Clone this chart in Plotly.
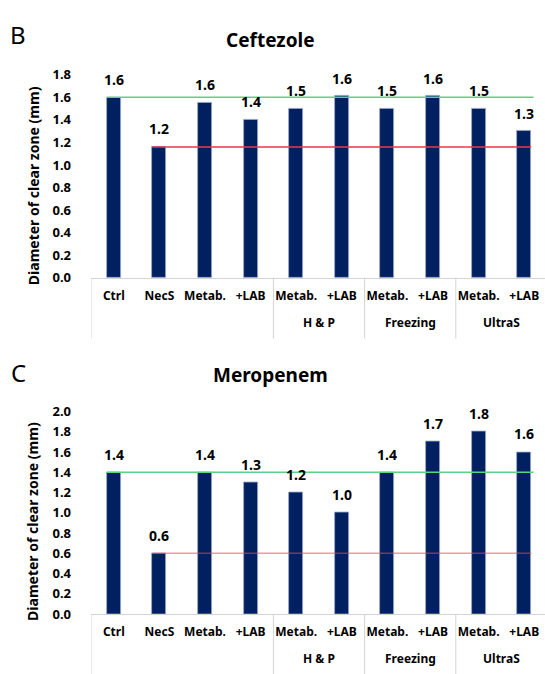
import plotly.graph_objects as go

# ---- data ----
categories = ["Ctrl", "NecS", "Metab.", "+LAB", "Metab.", "+LAB", "Metab.", "+LAB", "Metab.", "+LAB"]
groups = ["", "H & P", "Freezing", "UltraS"]
group_members = [[0, 1, 2, 3], [4, 5], [6, 7], [8, 9]]

ceftezole_values = [1.60, 1.16, 1.55, 1.40, 1.50, 1.61, 1.50, 1.61, 1.50, 1.30]
ceftezole_labels = ["1.6", "1.2", "1.6", "1.4", "1.5", "1.6", "1.5", "1.6", "1.5", "1.3"]

meropenem_values = [1.40, 0.60, 1.40, 1.30, 1.20, 1.00, 1.40, 1.70, 1.80, 1.60]
meropenem_labels = ["1.4", "0.6", "1.4", "1.3", "1.2", "1.0", "1.4", "1.7", "1.8", "1.6"]

ceftezole_ticks = [0.0, 0.2, 0.4, 0.6, 0.8, 1.0, 1.2, 1.4, 1.6, 1.8]
meropenem_ticks = [0.0, 0.2, 0.4, 0.6, 0.8, 1.0, 1.2, 1.4, 1.6, 1.8, 2.0]

panels = [
    dict(letter="B", title="Ceftezole", values=ceftezole_values, labels=ceftezole_labels,
         ticks=ceftezole_ticks, ymax=1.8, red="#E8384F"),
    dict(letter="C", title="Meropenem", values=meropenem_values, labels=meropenem_labels,
         ticks=meropenem_ticks, ymax=2.0, red="rgba(238,70,80,0.55)"),
]

# ---- layout geometry (pixels) ----
W, H = 545, 674
BAR_W = 0.307
FONT = "Noto Sans"
NAVY = "#002060"
GREEN = "#5AD28C"
GRID = "#D4D4D4"

plot_px = [(67.6, 276.0), (413.5, 621.7)]   # top/bottom pixel of each plot area
title_px = [32, 376]
letter_px = [26, 373]
ytitle_px = [182, 527]
group_px = [322, 667]

def py(p):
    return 1 - p / H

x_pos = list(range(len(categories)))
fig = go.Figure()
annotations = []
shapes = []

for i, pn in enumerate(panels):
    n = "" if i == 0 else str(i + 1)
    xa, ya = "x" + n, "y" + n
    vals = pn["values"]
    fig.add_trace(go.Bar(
        x=x_pos, y=vals, width=BAR_W, xaxis=xa, yaxis=ya,
        marker=dict(color=NAVY, line=dict(color="#9AA8CC", width=0.8)),
        hoverinfo="skip", showlegend=False,
    ))
    # reference lines (control level and NecS level)
    fig.add_trace(go.Scatter(
        x=[x_pos[0] - BAR_W / 2, x_pos[-1] + BAR_W / 2 + 0.05], y=[vals[0], vals[0]],
        mode="lines", line=dict(color=GREEN, width=1.5), xaxis=xa, yaxis=ya,
        hoverinfo="skip", showlegend=False,
    ))
    fig.add_trace(go.Scatter(
        x=[x_pos[1] - BAR_W / 2, x_pos[-1] + BAR_W / 2], y=[vals[1], vals[1]],
        mode="lines", line=dict(color=pn["red"], width=1.5), xaxis=xa, yaxis=ya,
        hoverinfo="skip", showlegend=False,
    ))
    # value labels
    for xv, v, lab in zip(x_pos, vals, pn["labels"]):
        annotations.append(dict(
            x=xv, y=v, xref=xa, yref=ya, text=lab, showarrow=False,
            yanchor="middle", yshift=18,
            font=dict(family=FONT, size=14, color="#000000", weight="bold"),
        ))
    # group labels
    for g, mem in zip(groups, group_members):
        if g:
            annotations.append(dict(
                x=sum(mem) / len(mem), y=py(group_px[i]), xref=xa, yref="paper",
                text=g, showarrow=False, yanchor="middle",
                font=dict(family=FONT, size=12, color="#000000", weight="bold"),
            ))
    # group separators
    seps = [-0.5] + [mem[-1] + 0.5 for mem in group_members]
    for s in seps:
        shapes.append(dict(
            type="line", xref=xa, yref=ya + " domain", x0=s, x1=s, y0=0, y1=-0.3,
            line=dict(color=GRID, width=1),
        ))
    # title, panel letter, y title
    annotations.append(dict(
        x=270 / W, y=py(title_px[i]), xref="paper", yref="paper", text=pn["title"],
        showarrow=False, xanchor="center", yanchor="middle",
        font=dict(family=FONT, size=19, color="#000000", weight="bold"),
    ))
    annotations.append(dict(
        x=18 / W, y=py(letter_px[i]), xref="paper", yref="paper", text=pn["letter"],
        showarrow=False, xanchor="center", yanchor="middle",
        font=dict(family=FONT, size=24, color="#000000"),
    ))
    annotations.append(dict(
        x=33 / W, y=py(ytitle_px[i]), xref="paper", yref="paper",
        text="Diameter of clear zone (mm)", textangle=-90,
        showarrow=False, xanchor="center", yanchor="middle",
        font=dict(family=FONT, size=14, color="#000000", weight="bold"),
    ))

    top_px, bot_px = plot_px[i]
    xaxis = dict(
        domain=[91 / W, 1], range=[-0.5, 9.456], anchor=ya,
        tickmode="array", tickvals=x_pos, ticktext=categories,
        ticks="", showgrid=False, zeroline=False,
        showline=True, linecolor=GRID, linewidth=1,
        ticklabelstandoff=7,
        tickfont=dict(family=FONT, size=12, color="#000000", weight="bold"),
        fixedrange=True,
    )
    yaxis = dict(
        domain=[py(bot_px), py(top_px)], range=[0, pn["ymax"]], anchor=xa,
        tickmode="array", tickvals=pn["ticks"], ticktext=[f"{t:.1f}" for t in pn["ticks"]],
        ticks="", showgrid=False, zeroline=False, showline=False,
        ticklabelstandoff=19,
        tickfont=dict(family=FONT, size=13, color="#000000", weight="bold"),
        fixedrange=True,
    )
    fig.layout["xaxis" + n] = xaxis
    fig.layout["yaxis" + n] = yaxis

fig.update_layout(
    width=W, height=H,
    margin=dict(l=0, r=0, t=0, b=0),
    paper_bgcolor="white", plot_bgcolor="white",
    annotations=annotations, shapes=shapes,
    showlegend=False, bargap=0,
)

fig.write_html(
    "out.html",
    config={"displayModeBar": False},
    post_script="document.body.style.margin='0';document.body.style.overflow='hidden';",
)
